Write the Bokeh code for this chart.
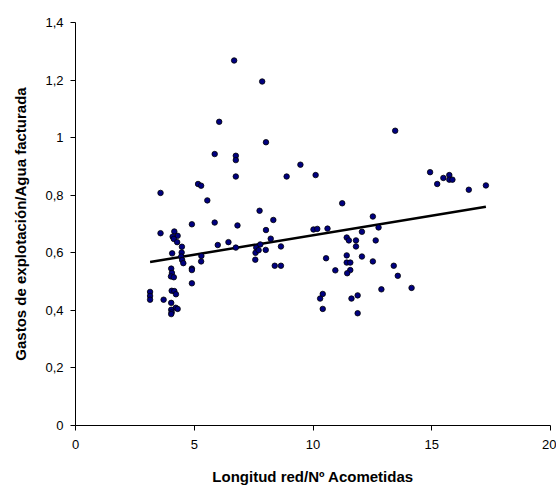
import numpy as np
from bokeh.plotting import figure
from bokeh.models import Range1d, FixedTicker, CustomJSTickFormatter
from bokeh.embed import file_html
from bokeh.resources import INLINE

# Longitud red / Nº Acometidas
x_vals = [3.58, 4.16, 4.30, 4.09, 4.14, 4.28, 4.48, 5.99, 6.44, 6.75,
          7.61, 7.78, 7.58, 7.71, 4.07, 4.47, 4.45, 4.49, 4.54, 5.30,
          5.29, 7.57, 4.90, 4.90, 4.03, 4.06, 4.02, 4.14, 4.90, 3.14,
          3.14, 3.14, 3.71, 4.05, 4.16, 4.23, 4.03, 4.22, 4.30, 4.03,
          4.05, 4.03, 6.68, 7.86, 6.05, 5.86, 6.75, 6.75, 6.75, 5.16,
          5.29, 3.58, 5.55, 7.75, 4.90, 5.86, 6.82, 8.02, 9.47, 8.89,
          10.11, 11.23, 8.33, 12.52, 8.02, 10.02, 10.18, 10.61, 12.76, 12.06,
          8.22, 8.01, 8.65, 11.42, 11.51, 11.81, 11.81, 12.64, 10.55, 11.42,
          11.42, 11.57, 12.06, 12.52, 8.39, 8.65, 10.94, 11.57, 11.44, 12.88,
          10.41, 10.30, 10.41, 11.62, 11.88, 11.88, 13.46, 14.93, 15.49, 15.74,
          15.23, 15.74, 15.87, 16.56, 17.28, 13.40, 13.57, 14.15]
# Gastos de explotación / Agua facturada
y_vals = [0.668, 0.674, 0.659, 0.656, 0.648, 0.637, 0.621, 0.627, 0.637, 0.618,
          0.618, 0.629, 0.600, 0.609, 0.598, 0.601, 0.587, 0.575, 0.564, 0.589,
          0.570, 0.576, 0.545, 0.540, 0.545, 0.530, 0.518, 0.515, 0.494, 0.464,
          0.450, 0.437, 0.437, 0.468, 0.467, 0.456, 0.426, 0.409, 0.405, 0.402,
          0.393, 0.387, 1.268, 1.195, 1.055, 0.943, 0.937, 0.922, 0.865, 0.839,
          0.833, 0.808, 0.782, 0.746, 0.699, 0.705, 0.695, 0.984, 0.906, 0.865,
          0.870, 0.772, 0.714, 0.726, 0.679, 0.681, 0.683, 0.684, 0.688, 0.673,
          0.649, 0.610, 0.622, 0.653, 0.643, 0.643, 0.622, 0.643, 0.581, 0.591,
          0.566, 0.566, 0.587, 0.570, 0.555, 0.555, 0.539, 0.540, 0.529, 0.473,
          0.457, 0.441, 0.405, 0.441, 0.452, 0.390, 1.024, 0.880, 0.860, 0.870,
          0.839, 0.854, 0.854, 0.819, 0.834, 0.555, 0.520, 0.478]

# Linear trendline
trend_slope = 0.01355
trend_intercept = 0.5255

x_ticks = [0, 5, 10, 15, 20]
y_ticks = [0, 0.2, 0.4, 0.6, 0.8, 1.0, 1.2, 1.4]

xa = np.array(x_vals)
trend_x = np.array([xa.min(), xa.max()])
trend_y = trend_slope * trend_x + trend_intercept

p = figure(width=556, height=487, output_backend="svg", toolbar_location=None,
           x_range=Range1d(0, 20), y_range=Range1d(0, 1.4),
           min_border_left=75, min_border_right=6, min_border_top=22, min_border_bottom=58)
p.outline_line_color = None
p.grid.visible = False
p.background_fill_color = "white"
p.border_fill_color = "white"

p.line(trend_x, trend_y, line_color="black", line_width=2.5)
p.scatter(x_vals, y_vals, size=5.5, fill_color="#000080", line_color="black", line_width=0.8)

p.xaxis.ticker = FixedTicker(ticks=x_ticks)
p.yaxis.ticker = FixedTicker(ticks=y_ticks)
p.yaxis.formatter = CustomJSTickFormatter(code="return (Math.round(tick*10)/10).toString().replace('.', ',');")

for ax in (p.xaxis[0], p.yaxis[0]):
    ax.axis_line_color = "black"
    ax.axis_line_width = 1
    ax.major_tick_line_color = "black"
    ax.major_tick_in = 0
    ax.major_tick_out = 5
    ax.minor_tick_line_color = None
    ax.major_label_text_font = "Liberation Sans"
    ax.major_label_text_font_size = "13px"
    ax.major_label_text_color = "black"
    ax.axis_label_text_font = "Liberation Sans"
    ax.axis_label_text_font_size = "15px"
    ax.axis_label_text_font_style = "bold"
    ax.axis_label_text_color = "black"

p.xaxis.axis_label = "Longitud red/Nº Acometidas"
p.yaxis.axis_label = "Gastos de explotación/Agua facturada"
p.xaxis.major_label_standoff = 9
p.yaxis.major_label_standoff = 7
p.xaxis.axis_label_standoff = 16
p.yaxis.axis_label_standoff = 13

open("out.html", "w").write(file_html(p, INLINE))
